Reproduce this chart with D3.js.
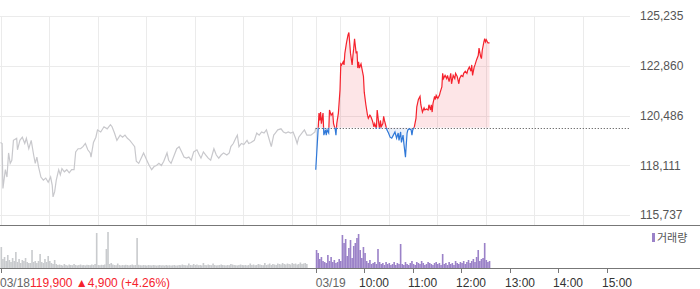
<!DOCTYPE html>
<html>
<head>
<meta charset="utf-8">
<script src="https://cdn.jsdelivr.net/npm/d3@7"></script>
<style>
  body { margin: 0; background: #fff; }
  svg { display: block; font-family: "Liberation Sans", Arial, sans-serif; }
</style>
</head>
<body>
<div id="chart"></div>
<script>
// previous close and y tick labels
var prevClose = 119900;
var priceTicks = [115737, 118111, 120486, 122860, 125235];
var dayLabels = ["03/18", "03/19"];
var timeLabels = ["10:00", "11:00", "12:00", "13:00", "14:00", "15:00"];
var closeText = "119,900 \u25B24,900 (+4.26%)";

// 03/18 price, [minutes after 09:00, price]
var day1 = [[0,119200],[2,119150],[3,117000],[6,117900],[8,117550],[10,118700],[12,118200],[14,118350],
  [16,119300],[20,119400],[21,118850],[24,119300],[27,119450],[30,119150],[32,119400],[35,118900],
  [38,119300],[41,118600],[43,118200],[45,118500],[47,118050],[50,117550],[53,117400],[56,117500],
  [59,117300],[62,117550],[64,117150],[65,116600],[67,116850],[69,117400],[72,117900],[74,117650],
  [76,117950],[79,117800],[82,117900],[85,117750],[88,117900],[91,117900],[93,118750],[96,118900],
  [99,118900],[102,119000],[105,119150],[108,118850],[111,118700],[112,118500],[115,119200],[118,119450],
  [120,119800],[124,119700],[128,119950],[132,119850],[136,120050],[138,119950],[141,119650],[144,119300],
  [148,119550],[151,119450],[154,119550],[157,119400],[160,119300],[163,119150],[166,119000],[168,118300],
  [171,118200],[174,118450],[177,118700],[181,118350],[184,118100],[187,117900],[190,118050],[193,118100],
  [196,118200],[199,118100],[202,118300],[206,118700],[208,118350],[211,118200],[215,118600],[218,118900],
  [221,119000],[224,118750],[227,118500],[230,118450],[233,118500],[236,118350],[239,118750],[243,118850],
  [246,118600],[248,118450],[251,118750],[254,118600],[257,118450],[260,118350],[264,118900],[267,118600],
  [270,118450],[273,118600],[276,118700],[280,118600],[283,118700],[285,119000],[288,119150],[291,119400],
  [293,119550],[295,119000],[298,119150],[301,119100],[305,119300],[307,119150],[310,119200],[314,119300],
  [317,119650],[320,119550],[323,119700],[326,119650],[329,119800],[332,119400],[335,119000],[338,119550],
  [340,119650],[343,119800],[347,119850],[350,119700],[353,119650],[356,119700],[359,119650],[362,119700],
  [365,119400],[367,119150],[369,119450],[374,119700],[376,119800],[379,119550],[384,119550],[389,119700],
  [390,119900]];

// 03/19 price, [minutes after 09:00, price]
var day2 = [[0,117900],[3,119850],[4,120600],[5,120250],[6,120650],[7,120100],[9,120600],[10,119550],
  [12,119800],[13,119550],[14,119800],[16,119650],[17,120750],[19,120500],[21,120600],[22,120100],
  [24,119850],[25,119550],[26,120100],[28,120600],[30,121700],[31,122950],[32,122900],[34,123050],
  [35,122900],[36,123450],[38,123950],[40,124350],[41,124450],[42,123950],[43,123450],[45,122900],
  [46,123350],[47,123700],[48,124150],[50,123450],[51,123550],[52,122750],[53,123050],[54,122750],
  [56,122950],[57,122750],[59,122350],[60,121600],[62,121000],[64,120500],[65,120350],[67,120500],
  [68,120450],[70,120250],[72,119950],[73,120100],[75,119850],[76,120750],[78,120100],[79,119850],
  [80,120250],[81,119950],[83,120100],[84,120450],[85,120250],[87,119950],[88,119800],[90,119650],
  [92,119450],[94,119400],[96,119550],[98,119700],[100,119400],[102,119650],[103,119300],[105,119700],
  [106,119200],[108,119550],[109,119150],[111,118500],[112,119100],[113,119650],[114,119800],[116,119850],
  [118,119800],[119,119550],[120,119800],[122,119950],[124,120350],[125,120900],[127,121250],[129,121400],
  [130,121000],[132,120650],[134,120850],[135,120750],[137,120800],[139,120750],[140,121000],[142,120750],
  [143,121000],[144,120650],[145,121050],[147,121400],[148,121250],[149,121450],[151,121300],[153,121450],
  [154,121600],[156,121850],[157,122500],[158,122250],[160,122400],[162,122250],[163,122400],[165,122100],
  [167,122500],[168,122000],[170,122400],[172,122250],[173,122500],[175,122350],[177,122000],[178,122250],
  [180,122400],[182,122350],[183,122500],[185,122600],[187,122500],[188,122650],[190,122800],[192,122600],
  [193,122900],[194,122400],[196,122800],[197,122900],[199,123150],[201,123350],[202,123700],[204,123300],
  [205,123200],[206,123600],[208,124000],[209,124150],[210,124000],[211,124100],[213,123950],[215,123950]];

// volume per 2 minutes
var vol1 = [2100,900,1100,700,1300,800,600,1000,700,1600, 600,900,500,800,700,1000,600,500,500,1800,
  600,700,500,700,1400,600,500,900,600,1200, 700,500,400,800,400,300,350,300,250,400,
  300,250,350,300,280,400,300,260,300,350, 280,300,260,320,300,280,350,300,400,3500,
  300,280,320,300,350,1900,3600,400,500,350, 300,280,450,300,260,300,280,320,300,260,
  300,350,280,300,3000,320,280,260,300,280, 250,300,280,260,300,280,250,270,300,260,
  280,250,300,260,280,250,270,300,250,260, 300,280,350,300,280,260,450,300,280,400,
  300,350,280,300,260,500,300,280,350,300, 280,450,300,260,280,300,350,300,280,260,
  300,280,400,350,300,280,260,300,350,300, 280,300,260,300,450,300,350,280,300,400,
  350,300,280,500,300,350,450,300,400,350, 300,450,400,350,500,400,350,450,400,350,
  500,400,450,350,400,550,400,450,500,400, 0,0,0,0,0];
var vol2 = [1800,1500,900,1100,700,600,500,1300,700,1100, 600,800,500,600,900,700,3300,2500,2900,1200,
  2000,2800,1000,2200,2500,3000,3400,1800,1000,2100, 1500,700,500,800,400,500,600,400,1900,600,
  400,500,300,600,400,500,300,400,600,300, 500,400,2400,400,300,600,400,300,500,700,
  400,300,600,500,400,700,500,300,400,600, 500,400,300,500,600,400,500,300,1400,400,
  500,300,600,400,500,300,700,500,400,600, 500,700,400,600,800,500,700,900,600,1100,
  1800,700,900,1000,2500,800,600,700];

var W = 700, H = 289;
var svg = d3.select("#chart").append("svg").attr("width", W).attr("height", H);

var x = d3.scaleLinear().domain([0, 780]).range([0.5, 631]);
var y = d3.scaleLinear().domain([priceTicks[0], priceTicks[4]]).range([215, 16]);
var yv = d3.scaleLinear().domain([0, 3600]).range([268, 232]);

// grid
var grid = svg.append("g");
grid.selectAll(".hg").data(priceTicks).enter().append("line")
  .attr("x1", 0).attr("x2", 630)
  .attr("y1", function(d) { return Math.round(y(d)) + 0.5; })
  .attr("y2", function(d) { return Math.round(y(d)) + 0.5; })
  .attr("stroke", "#ebebeb");
var hours = d3.range(0, 780, 60).concat([390]);
grid.selectAll(".vg").data(hours).enter().append("line")
  .attr("x1", function(d) { return Math.round(x(d)) + 0.5; })
  .attr("x2", function(d) { return Math.round(x(d)) + 0.5; })
  .attr("y1", 16).attr("y2", 225)
  .attr("stroke", "#ebebeb");

// price labels
svg.selectAll(".pl").data(priceTicks).enter().append("text")
  .attr("x", 640).attr("y", function(d) { return y(d); })
  .attr("dy", "0.36em")
  .attr("font-size", 12).attr("fill", "#555")
  .text(function(d) { return d3.format(",")(d); });

// day 1 line
var line = d3.line().x(function(d) { return x(d[0]); }).y(function(d) { return y(d[1]); });
svg.append("path").datum(day1).attr("d", line)
  .attr("fill", "none").attr("stroke", "#c8c8cc").attr("stroke-width", 1.2);

// day 2, red above / blue below previous close
var d2 = day2.map(function(d) { return [d[0] + 390, d[1]]; });
var by = y(prevClose);
var defs = svg.append("defs");
defs.append("clipPath").attr("id", "above").append("rect")
  .attr("x", 0).attr("y", 0).attr("width", W).attr("height", by);
defs.append("clipPath").attr("id", "below").append("rect")
  .attr("x", 0).attr("y", by).attr("width", W).attr("height", H - by);

var area = d3.area().x(function(d) { return x(d[0]); })
  .y0(by).y1(function(d) { return y(d[1]); });

svg.append("path").datum(d2).attr("d", area).attr("clip-path", "url(#above)")
  .attr("fill", "rgba(240,40,60,0.12)");
svg.append("path").datum(d2).attr("d", area).attr("clip-path", "url(#below)")
  .attr("fill", "rgba(50,110,210,0.10)");

svg.append("line").attr("x1", x(390)).attr("x2", 630)
  .attr("y1", Math.round(by) + 0.5).attr("y2", Math.round(by) + 0.5)
  .attr("stroke", "#444").attr("stroke-dasharray", "1,2");

svg.append("path").datum(d2).attr("d", line).attr("clip-path", "url(#above)")
  .attr("fill", "none").attr("stroke", "#f5222d").attr("stroke-width", 1.2);
svg.append("path").datum(d2).attr("d", line).attr("clip-path", "url(#below)")
  .attr("fill", "none").attr("stroke", "#2f78d8").attr("stroke-width", 1.2);

// separator between price and volume
svg.append("line").attr("x1", 0).attr("x2", W).attr("y1", 225.5).attr("y2", 225.5)
  .attr("stroke", "#777");

// volume bars
var bw = x(2) - x(0);
svg.append("g").selectAll("rect").data(vol1).enter().append("rect")
  .attr("x", function(d, i) { return x(i * 2); })
  .attr("width", bw)
  .attr("y", function(d) { return yv(d); })
  .attr("height", function(d) { return yv(0) - yv(d); })
  .attr("fill", "#c9cbce");
svg.append("g").selectAll("rect").data(vol2).enter().append("rect")
  .attr("x", function(d, i) { return x(390 + i * 2); })
  .attr("width", bw)
  .attr("y", function(d) { return yv(d); })
  .attr("height", function(d) { return yv(0) - yv(d); })
  .attr("fill", "#9b82c8");

// legend
svg.append("rect").attr("x", 652).attr("y", 233).attr("width", 3).attr("height", 9).attr("fill", "#9b82c8");
svg.append("text").attr("x", 657).attr("y", 241.5)
  .attr("font-family", "'Noto Sans CJK KR', sans-serif").attr("font-size", 11).attr("fill", "#555")
  .text("거래량");

// time axis
svg.append("line").attr("x1", 0).attr("x2", W).attr("y1", 268.5).attr("y2", 268.5).attr("stroke", "#777");
var tickMins = [0, 390].concat(d3.range(1, 7).map(function(h) { return 390 + h * 60; }));
svg.selectAll(".tk").data(tickMins).enter().append("line")
  .attr("x1", function(d) { return Math.round(x(d)) + 0.5; })
  .attr("x2", function(d) { return Math.round(x(d)) + 0.5; })
  .attr("y1", 268).attr("y2", 273).attr("stroke", "#777");

var dl = svg.append("text").attr("x", 0).attr("y", 287).attr("font-size", 12).attr("fill", "#666");
dl.append("tspan").text(dayLabels[0]);
dl.append("tspan").attr("fill", "#f5222d").text(closeText);
svg.append("text").attr("x", x(390)).attr("y", 287).attr("font-size", 12).attr("fill", "#666").text(dayLabels[1]);
svg.selectAll(".tl").data(timeLabels).enter().append("text")
  .attr("x", function(d, i) { return Math.round(x(390 + (i + 1) * 60)) - 5; })
  .attr("y", 287).attr("font-size", 12).attr("fill", "#333")
  .text(function(d) { return d; });
</script>
</body>
</html>
